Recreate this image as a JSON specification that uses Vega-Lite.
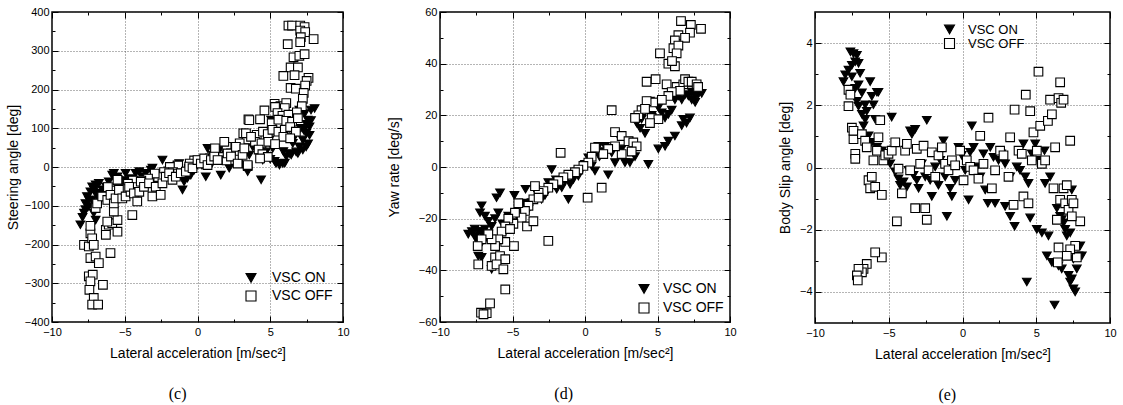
{
"$schema":"https://vega.github.io/schema/vega-lite/v6.json",
"padding":{"left":5,"top":5,"right":5,"bottom":0},
"spacing":36,
"config":{
 "view":{"stroke":"black","strokeWidth":1.5},
 "axis":{"domain":false,"grid":true,"gridDash":[1,2],"gridColor":"#444","gridWidth":0.8,"tickColor":"black","tickWidth":1,"labelFont":"Liberation Sans","labelFontSize":11,"labelColor":"black","labelPadding":9,"labelFlush":false,"labelOverlap":false,"titleFont":"Liberation Sans","titleFontSize":14,"titleFontWeight":"normal","titleColor":"black"},
 "axisBottom":{"labelPadding":10,"titlePadding":6},
 "title":{"font":"Liberation Serif","fontSize":16,"fontWeight":"normal","color":"black","orient":"bottom","anchor":"middle","frame":"bounds","offset":26},
 "legend":{"labelFont":"Liberation Sans","labelFontSize":14,"labelColor":"black","symbolSize":100,"symbolStrokeColor":"black","symbolStrokeWidth":1.1,"labelOffset":12}
},
"resolve":{"scale":{"x":"independent","y":"independent","shape":"independent","fill":"independent","stroke":"independent"},"legend":{"shape":"independent","fill":"independent","stroke":"independent"}},
"datasets":{
"c":[
{"a":-8.05,"v":-149,"s":"VSC ON"},{"a":-7.8,"v":-119,"s":"VSC ON"},{"a":-7.7,"v":-94,"s":"VSC ON"},{"a":-7.6,"v":-76,"s":"VSC ON"},{"a":-7.47,"v":-85,"s":"VSC ON"},{"a":-7.36,"v":-64,"s":"VSC ON"},{"a":-7.24,"v":-51,"s":"VSC ON"},{"a":-7.0,"v":-46,"s":"VSC ON"},{"a":-6.78,"v":-42,"s":"VSC ON"},{"a":-7.13,"v":-119,"s":"VSC ON"},{"a":-7.0,"v":-137,"s":"VSC ON"},{"a":-7.47,"v":-102,"s":"VSC ON"},{"a":-7.24,"v":-85,"s":"VSC ON"},{"a":-6.78,"v":-68,"s":"VSC ON"},{"a":-6.55,"v":-59,"s":"VSC ON"},{"a":-6.3,"v":-51,"s":"VSC ON"},{"a":-5.86,"v":-21,"s":"VSC ON"},{"a":-5.75,"v":-16,"s":"VSC ON"},{"a":-5.5,"v":-25,"s":"VSC ON"},{"a":-6.1,"v":-38,"s":"VSC ON"},{"a":-4.94,"v":-16,"s":"VSC ON"},{"a":-4.25,"v":-16,"s":"VSC ON"},{"a":-4.0,"v":-12,"s":"VSC ON"},{"a":-3.56,"v":-16,"s":"VSC ON"},{"a":-3.2,"v":-8,"s":"VSC ON"},{"a":-3.1,"v":-3,"s":"VSC ON"},{"a":-3.8,"v":-25,"s":"VSC ON"},{"a":-4.14,"v":-38,"s":"VSC ON"},{"a":-2.41,"v":18,"s":"VSC ON"},{"a":-2.18,"v":-16,"s":"VSC ON"},{"a":-1.72,"v":-3,"s":"VSC ON"},{"a":-1.38,"v":5,"s":"VSC ON"},{"a":-1.26,"v":9,"s":"VSC ON"},{"a":-1.15,"v":-21,"s":"VSC ON"},{"a":-1.03,"v":-59,"s":"VSC ON"},{"a":-0.92,"v":-38,"s":"VSC ON"},{"a":-0.69,"v":-29,"s":"VSC ON"},{"a":-0.46,"v":-21,"s":"VSC ON"},{"a":-0.23,"v":-8,"s":"VSC ON"},{"a":-0.11,"v":1,"s":"VSC ON"},{"a":0.11,"v":14,"s":"VSC ON"},{"a":0.57,"v":-25,"s":"VSC ON"},{"a":0.69,"v":48,"s":"VSC ON"},{"a":0.8,"v":22,"s":"VSC ON"},{"a":1.03,"v":31,"s":"VSC ON"},{"a":1.26,"v":39,"s":"VSC ON"},{"a":1.5,"v":44,"s":"VSC ON"},{"a":1.6,"v":-21,"s":"VSC ON"},{"a":1.72,"v":27,"s":"VSC ON"},{"a":1.95,"v":18,"s":"VSC ON"},{"a":2.18,"v":-3,"s":"VSC ON"},{"a":2.41,"v":27,"s":"VSC ON"},{"a":2.64,"v":35,"s":"VSC ON"},{"a":2.87,"v":27,"s":"VSC ON"},{"a":3.22,"v":1,"s":"VSC ON"},{"a":3.45,"v":-12,"s":"VSC ON"},{"a":3.56,"v":31,"s":"VSC ON"},{"a":3.8,"v":52,"s":"VSC ON"},{"a":4.0,"v":65,"s":"VSC ON"},{"a":4.37,"v":-33,"s":"VSC ON"},{"a":4.48,"v":18,"s":"VSC ON"},{"a":4.71,"v":39,"s":"VSC ON"},{"a":4.94,"v":70,"s":"VSC ON"},{"a":5.06,"v":121,"s":"VSC ON"},{"a":5.17,"v":48,"s":"VSC ON"},{"a":5.4,"v":9,"s":"VSC ON"},{"a":5.63,"v":5,"s":"VSC ON"},{"a":5.86,"v":9,"s":"VSC ON"},{"a":6.1,"v":27,"s":"VSC ON"},{"a":6.32,"v":35,"s":"VSC ON"},{"a":6.55,"v":61,"s":"VSC ON"},{"a":6.67,"v":78,"s":"VSC ON"},{"a":6.78,"v":39,"s":"VSC ON"},{"a":7.0,"v":52,"s":"VSC ON"},{"a":7.24,"v":70,"s":"VSC ON"},{"a":7.47,"v":87,"s":"VSC ON"},{"a":7.7,"v":104,"s":"VSC ON"},{"a":7.58,"v":121,"s":"VSC ON"},{"a":7.8,"v":147,"s":"VSC ON"},{"a":8.05,"v":151,"s":"VSC ON"},{"a":7.0,"v":147,"s":"VSC ON"},{"a":7.36,"v":138,"s":"VSC ON"},{"a":7.7,"v":82,"s":"VSC ON"},{"a":7.47,"v":52,"s":"VSC ON"},{"a":7.24,"v":44,"s":"VSC ON"},{"a":6.9,"v":35,"s":"VSC ON"},{"a":6.44,"v":31,"s":"VSC ON"},{"a":-5.2,"v":-40,"s":"VSC ON"},{"a":-4.6,"v":-30,"s":"VSC ON"},{"a":-3.4,"v":-30,"s":"VSC ON"},{"a":-2.8,"v":-20,"s":"VSC ON"},{"a":-2.0,"v":-10,"s":"VSC ON"},{"a":-1.6,"v":-15,"s":"VSC ON"},{"a":-0.6,"v":-10,"s":"VSC ON"},{"a":0.3,"v":5,"s":"VSC ON"},{"a":1.0,"v":10,"s":"VSC ON"},{"a":2.0,"v":30,"s":"VSC ON"},{"a":2.9,"v":40,"s":"VSC ON"},{"a":3.3,"v":60,"s":"VSC ON"},{"a":4.2,"v":40,"s":"VSC ON"},{"a":5.0,"v":20,"s":"VSC ON"},{"a":5.3,"v":15,"s":"VSC ON"},{"a":6.0,"v":10,"s":"VSC ON"},{"a":5.9,"v":40,"s":"VSC ON"},{"a":7.1,"v":100,"s":"VSC ON"},{"a":7.5,"v":110,"s":"VSC ON"},{"a":7.8,"v":120,"s":"VSC ON"},{"a":7.6,"v":60,"s":"VSC ON"},{"a":7.3,"v":95,"s":"VSC ON"},{"a":-7.9,"v":-130,"s":"VSC ON"},{"a":-7.7,"v":-110,"s":"VSC ON"},{"a":-6.9,"v":-100,"s":"VSC ON"},{"a":-6.6,"v":-80,"s":"VSC ON"},{"a":-7.1,"v":-60,"s":"VSC ON"},{"a":-6.9,"v":-75,"s":"VSC ON"},{"a":-5.4,"v":-55,"s":"VSC ON"},{"a":-5.0,"v":-35,"s":"VSC ON"},
{"a":6.25,"v":365,"s":"VSC OFF"},{"a":6.5,"v":365,"s":"VSC OFF"},{"a":7.06,"v":365,"s":"VSC OFF"},{"a":7.36,"v":361,"s":"VSC OFF"},{"a":7.06,"v":352,"s":"VSC OFF"},{"a":7.4,"v":348,"s":"VSC OFF"},{"a":7.98,"v":330,"s":"VSC OFF"},{"a":7.1,"v":335,"s":"VSC OFF"},{"a":7.06,"v":322,"s":"VSC OFF"},{"a":6.2,"v":317,"s":"VSC OFF"},{"a":6.6,"v":283,"s":"VSC OFF"},{"a":7.0,"v":287,"s":"VSC OFF"},{"a":7.36,"v":291,"s":"VSC OFF"},{"a":6.4,"v":257,"s":"VSC OFF"},{"a":6.9,"v":257,"s":"VSC OFF"},{"a":5.9,"v":235,"s":"VSC OFF"},{"a":6.67,"v":237,"s":"VSC OFF"},{"a":7.63,"v":230,"s":"VSC OFF"},{"a":7.5,"v":222,"s":"VSC OFF"},{"a":7.4,"v":210,"s":"VSC OFF"},{"a":6.4,"v":204,"s":"VSC OFF"},{"a":6.76,"v":202,"s":"VSC OFF"},{"a":7.3,"v":191,"s":"VSC OFF"},{"a":7.24,"v":176,"s":"VSC OFF"},{"a":4.6,"v":146,"s":"VSC OFF"},{"a":5.3,"v":163,"s":"VSC OFF"},{"a":5.7,"v":157,"s":"VSC OFF"},{"a":6.1,"v":165,"s":"VSC OFF"},{"a":5.33,"v":155,"s":"VSC OFF"},{"a":6.0,"v":152,"s":"VSC OFF"},{"a":7.17,"v":157,"s":"VSC OFF"},{"a":3.5,"v":123,"s":"VSC OFF"},{"a":4.3,"v":123,"s":"VSC OFF"},{"a":5.5,"v":139,"s":"VSC OFF"},{"a":5.84,"v":132,"s":"VSC OFF"},{"a":6.25,"v":135,"s":"VSC OFF"},{"a":6.83,"v":141,"s":"VSC OFF"},{"a":5.1,"v":113,"s":"VSC OFF"},{"a":5.56,"v":122,"s":"VSC OFF"},{"a":6.1,"v":119,"s":"VSC OFF"},{"a":6.5,"v":117,"s":"VSC OFF"},{"a":6.9,"v":126,"s":"VSC OFF"},{"a":3.15,"v":87,"s":"VSC OFF"},{"a":3.68,"v":78,"s":"VSC OFF"},{"a":4.07,"v":83,"s":"VSC OFF"},{"a":4.5,"v":91,"s":"VSC OFF"},{"a":4.83,"v":85,"s":"VSC OFF"},{"a":5.15,"v":96,"s":"VSC OFF"},{"a":5.56,"v":91,"s":"VSC OFF"},{"a":6.0,"v":96,"s":"VSC OFF"},{"a":6.37,"v":103,"s":"VSC OFF"},{"a":6.76,"v":91,"s":"VSC OFF"},{"a":5.9,"v":78,"s":"VSC OFF"},{"a":6.37,"v":74,"s":"VSC OFF"},{"a":3.38,"v":71,"s":"VSC OFF"},{"a":3.95,"v":65,"s":"VSC OFF"},{"a":4.4,"v":61,"s":"VSC OFF"},{"a":4.87,"v":65,"s":"VSC OFF"},{"a":5.33,"v":59,"s":"VSC OFF"},{"a":4.2,"v":45,"s":"VSC OFF"},{"a":4.46,"v":33,"s":"VSC OFF"},{"a":4.83,"v":26,"s":"VSC OFF"},{"a":4.3,"v":22,"s":"VSC OFF"},{"a":3.45,"v":2,"s":"VSC OFF"},{"a":2.9,"v":61,"s":"VSC OFF"},{"a":2.5,"v":52,"s":"VSC OFF"},{"a":2.0,"v":52,"s":"VSC OFF"},{"a":1.84,"v":65,"s":"VSC OFF"},{"a":2.8,"v":35,"s":"VSC OFF"},{"a":2.3,"v":35,"s":"VSC OFF"},{"a":1.66,"v":26,"s":"VSC OFF"},{"a":1.2,"v":48,"s":"VSC OFF"},{"a":0.85,"v":22,"s":"VSC OFF"},{"a":0.4,"v":17,"s":"VSC OFF"},{"a":0.05,"v":13,"s":"VSC OFF"},{"a":-0.23,"v":17,"s":"VSC OFF"},{"a":-0.53,"v":9,"s":"VSC OFF"},{"a":-0.6,"v":-4,"s":"VSC OFF"},{"a":1.2,"v":19,"s":"VSC OFF"},{"a":2.0,"v":17,"s":"VSC OFF"},{"a":2.8,"v":19,"s":"VSC OFF"},{"a":-1.33,"v":4,"s":"VSC OFF"},{"a":-1.9,"v":0,"s":"VSC OFF"},{"a":-1.68,"v":-13,"s":"VSC OFF"},{"a":-1.33,"v":-17,"s":"VSC OFF"},{"a":-2.3,"v":-13,"s":"VSC OFF"},{"a":-2.7,"v":-26,"s":"VSC OFF"},{"a":-2.94,"v":-17,"s":"VSC OFF"},{"a":-3.4,"v":-30,"s":"VSC OFF"},{"a":-3.86,"v":-35,"s":"VSC OFF"},{"a":-4.2,"v":-39,"s":"VSC OFF"},{"a":-4.44,"v":-35,"s":"VSC OFF"},{"a":-4.78,"v":-43,"s":"VSC OFF"},{"a":-5.47,"v":-35,"s":"VSC OFF"},{"a":-5.0,"v":-57,"s":"VSC OFF"},{"a":-4.3,"v":-52,"s":"VSC OFF"},{"a":-5.7,"v":-61,"s":"VSC OFF"},{"a":-6.16,"v":-52,"s":"VSC OFF"},
{"a":-7.8,"v":-201,"s":"VSC OFF"},{"a":-7.47,"v":-205,"s":"VSC OFF"},{"a":-7.36,"v":-171,"s":"VSC OFF"},{"a":-7.24,"v":-184,"s":"VSC OFF"},{"a":-7.13,"v":-201,"s":"VSC OFF"},{"a":-7.36,"v":-235,"s":"VSC OFF"},{"a":-7.0,"v":-231,"s":"VSC OFF"},{"a":-6.78,"v":-248,"s":"VSC OFF"},{"a":-7.47,"v":-282,"s":"VSC OFF"},{"a":-7.2,"v":-278,"s":"VSC OFF"},{"a":-7.36,"v":-295,"s":"VSC OFF"},{"a":-7.43,"v":-317,"s":"VSC OFF"},{"a":-7.13,"v":-338,"s":"VSC OFF"},{"a":-7.24,"v":-355,"s":"VSC OFF"},{"a":-6.83,"v":-355,"s":"VSC OFF"},{"a":-6.5,"v":-304,"s":"VSC OFF"},{"a":-5.98,"v":-222,"s":"VSC OFF"},{"a":-6.3,"v":-162,"s":"VSC OFF"},{"a":-6.1,"v":-149,"s":"VSC OFF"},{"a":-5.86,"v":-145,"s":"VSC OFF"},{"a":-6.3,"v":-175,"s":"VSC OFF"},{"a":-5.5,"v":-167,"s":"VSC OFF"},{"a":-5.5,"v":-137,"s":"VSC OFF"},{"a":-5.75,"v":-115,"s":"VSC OFF"},{"a":-6.2,"v":-141,"s":"VSC OFF"},{"a":-7.36,"v":-152,"s":"VSC OFF"},{"a":-7.0,"v":-106,"s":"VSC OFF"},{"a":-6.9,"v":-94,"s":"VSC OFF"},{"a":-6.55,"v":-76,"s":"VSC OFF"},{"a":-6.2,"v":-85,"s":"VSC OFF"},{"a":-5.98,"v":-72,"s":"VSC OFF"},{"a":-5.75,"v":-94,"s":"VSC OFF"},{"a":-5.63,"v":-81,"s":"VSC OFF"},{"a":-5.4,"v":-59,"s":"VSC OFF"},{"a":-5.5,"v":-33,"s":"VSC OFF"},{"a":-5.17,"v":-81,"s":"VSC OFF"},{"a":-4.94,"v":-76,"s":"VSC OFF"},{"a":-4.6,"v":-64,"s":"VSC OFF"},{"a":-4.48,"v":-124,"s":"VSC OFF"},{"a":-4.7,"v":-51,"s":"VSC OFF"},{"a":-4.37,"v":-68,"s":"VSC OFF"},{"a":-4.0,"v":-64,"s":"VSC OFF"},{"a":-4.14,"v":-89,"s":"VSC OFF"},{"a":-3.9,"v":-38,"s":"VSC OFF"},{"a":-3.68,"v":-51,"s":"VSC OFF"},{"a":-3.33,"v":-42,"s":"VSC OFF"},{"a":-3.1,"v":-76,"s":"VSC OFF"},{"a":-2.87,"v":-51,"s":"VSC OFF"},{"a":-2.53,"v":-72,"s":"VSC OFF"},{"a":-2.41,"v":-42,"s":"VSC OFF"},{"a":-2.18,"v":-25,"s":"VSC OFF"},{"a":-1.95,"v":-16,"s":"VSC OFF"},{"a":-1.72,"v":-33,"s":"VSC OFF"},{"a":-1.49,"v":-25,"s":"VSC OFF"},{"a":-1.15,"v":-16,"s":"VSC OFF"},{"a":-0.8,"v":-12,"s":"VSC OFF"},{"a":-0.57,"v":1,"s":"VSC OFF"},{"a":-0.34,"v":-3,"s":"VSC OFF"},{"a":0,"v":18,"s":"VSC OFF"},{"a":0.23,"v":9,"s":"VSC OFF"},{"a":0.46,"v":22,"s":"VSC OFF"},{"a":0.69,"v":5,"s":"VSC OFF"},{"a":0.92,"v":18,"s":"VSC OFF"},{"a":1.15,"v":27,"s":"VSC OFF"},{"a":1.38,"v":18,"s":"VSC OFF"},{"a":2.07,"v":35,"s":"VSC OFF"},{"a":2.3,"v":27,"s":"VSC OFF"},{"a":2.64,"v":52,"s":"VSC OFF"},{"a":2.76,"v":9,"s":"VSC OFF"},{"a":3.1,"v":31,"s":"VSC OFF"},{"a":3.22,"v":48,"s":"VSC OFF"},{"a":3.45,"v":5,"s":"VSC OFF"},{"a":3.33,"v":87,"s":"VSC OFF"},{"a":3.56,"v":121,"s":"VSC OFF"},{"a":3.68,"v":78,"s":"VSC OFF"}
],
"d":[
{"a":4.48,"v":25.5,"s":"VSC ON"},{"a":4.83,"v":25,"s":"VSC ON"},{"a":5.06,"v":23,"s":"VSC ON"},{"a":5.29,"v":21,"s":"VSC ON"},{"a":5.52,"v":19,"s":"VSC ON"},{"a":5.75,"v":20.4,"s":"VSC ON"},{"a":5.98,"v":22,"s":"VSC ON"},{"a":6.2,"v":26,"s":"VSC ON"},{"a":6.44,"v":27.5,"s":"VSC ON"},{"a":6.67,"v":26,"s":"VSC ON"},{"a":6.9,"v":28,"s":"VSC ON"},{"a":7.13,"v":27.5,"s":"VSC ON"},{"a":7.36,"v":29,"s":"VSC ON"},{"a":7.6,"v":27.5,"s":"VSC ON"},{"a":7.8,"v":28,"s":"VSC ON"},{"a":8.05,"v":28.5,"s":"VSC ON"},{"a":7.36,"v":26,"s":"VSC ON"},{"a":7.6,"v":25,"s":"VSC ON"},{"a":6.78,"v":18.5,"s":"VSC ON"},{"a":7.0,"v":17,"s":"VSC ON"},{"a":7.24,"v":19,"s":"VSC ON"},{"a":6.67,"v":16,"s":"VSC ON"},{"a":6.2,"v":12,"s":"VSC ON"},{"a":5.75,"v":10,"s":"VSC ON"},{"a":5.52,"v":8,"s":"VSC ON"},{"a":5.06,"v":7,"s":"VSC ON"},{"a":4.37,"v":1,"s":"VSC ON"},{"a":4.14,"v":13,"s":"VSC ON"},{"a":3.8,"v":15,"s":"VSC ON"},{"a":3.56,"v":17,"s":"VSC ON"},{"a":3.9,"v":18.5,"s":"VSC ON"},{"a":3.45,"v":4,"s":"VSC ON"},{"a":3.1,"v":1.7,"s":"VSC ON"},{"a":2.76,"v":1.7,"s":"VSC ON"},{"a":2.53,"v":7,"s":"VSC ON"},{"a":2.3,"v":12,"s":"VSC ON"},{"a":2.07,"v":1.7,"s":"VSC ON"},{"a":1.84,"v":5.5,"s":"VSC ON"},{"a":1.6,"v":-3,"s":"VSC ON"},{"a":1.38,"v":8,"s":"VSC ON"},{"a":1.15,"v":6,"s":"VSC ON"},{"a":0.92,"v":8,"s":"VSC ON"},{"a":0.69,"v":-1.5,"s":"VSC ON"},{"a":0.46,"v":0.4,"s":"VSC ON"},{"a":0.23,"v":3.6,"s":"VSC ON"},{"a":0,"v":1,"s":"VSC ON"},{"a":-0.23,"v":-1,"s":"VSC ON"},{"a":-0.46,"v":-3.5,"s":"VSC ON"},{"a":-0.8,"v":-4.8,"s":"VSC ON"},{"a":-1.03,"v":-6.7,"s":"VSC ON"},{"a":-1.15,"v":-12.5,"s":"VSC ON"},{"a":-1.38,"v":-5.4,"s":"VSC ON"},{"a":-1.6,"v":-8,"s":"VSC ON"},{"a":-1.95,"v":-8.6,"s":"VSC ON"},{"a":-2.3,"v":-1,"s":"VSC ON"},{"a":-2.53,"v":-6,"s":"VSC ON"},{"a":-2.76,"v":-11,"s":"VSC ON"},{"a":-3.0,"v":-12.5,"s":"VSC ON"},{"a":-3.33,"v":-10,"s":"VSC ON"},{"a":-3.45,"v":-8.6,"s":"VSC ON"},{"a":-3.68,"v":-13.8,"s":"VSC ON"},{"a":-3.9,"v":-16.4,"s":"VSC ON"},{"a":-4.1,"v":-8.6,"s":"VSC ON"},{"a":-4.37,"v":-17.7,"s":"VSC ON"},{"a":-4.6,"v":-19.6,"s":"VSC ON"},{"a":-4.87,"v":-11,"s":"VSC ON"},{"a":-5.06,"v":-21.5,"s":"VSC ON"},{"a":-5.29,"v":-19,"s":"VSC ON"},{"a":-5.5,"v":-25,"s":"VSC ON"},{"a":-5.86,"v":-10,"s":"VSC ON"},{"a":-6.1,"v":-11.9,"s":"VSC ON"},{"a":-5.98,"v":-17.7,"s":"VSC ON"},{"a":-6.2,"v":-20,"s":"VSC ON"},{"a":-6.44,"v":-23,"s":"VSC ON"},{"a":-6.67,"v":-21,"s":"VSC ON"},{"a":-6.9,"v":-19,"s":"VSC ON"},{"a":-7.13,"v":-15,"s":"VSC ON"},{"a":-7.24,"v":-17.7,"s":"VSC ON"},{"a":-7.36,"v":-25,"s":"VSC ON"},{"a":-7.6,"v":-26.7,"s":"VSC ON"},{"a":-7.8,"v":-25,"s":"VSC ON"},{"a":-8.05,"v":-26,"s":"VSC ON"},{"a":-7.6,"v":-24,"s":"VSC ON"},{"a":-7.13,"v":-25,"s":"VSC ON"},{"a":-6.9,"v":-24,"s":"VSC ON"},{"a":-6.67,"v":-26,"s":"VSC ON"},{"a":-7.36,"v":-34.5,"s":"VSC ON"},{"a":-7.13,"v":-35,"s":"VSC ON"},{"a":-6.44,"v":-39.6,"s":"VSC ON"},{"a":-6.2,"v":-38.3,"s":"VSC ON"},{"a":-6.9,"v":-28,"s":"VSC ON"},{"a":-7.13,"v":-29.3,"s":"VSC ON"},{"a":-7.5,"v":-28,"s":"VSC ON"},{"a":-7.0,"v":-27,"s":"VSC ON"},{"a":-5.7,"v":-22,"s":"VSC ON"},{"a":-4.2,"v":-14,"s":"VSC ON"},{"a":-2.0,"v":-5,"s":"VSC ON"},{"a":1.0,"v":4,"s":"VSC ON"},{"a":3.0,"v":10,"s":"VSC ON"},{"a":4.6,"v":20,"s":"VSC ON"},
{"a":6.62,"v":56.5,"s":"VSC OFF"},{"a":7.3,"v":55,"s":"VSC OFF"},{"a":8.0,"v":53.5,"s":"VSC OFF"},{"a":7.24,"v":52,"s":"VSC OFF"},{"a":6.44,"v":51,"s":"VSC OFF"},{"a":6.9,"v":50,"s":"VSC OFF"},{"a":6.2,"v":49,"s":"VSC OFF"},{"a":6.1,"v":46,"s":"VSC OFF"},{"a":6.44,"v":47,"s":"VSC OFF"},{"a":6.32,"v":44,"s":"VSC OFF"},{"a":5.17,"v":44,"s":"VSC OFF"},{"a":5.75,"v":40,"s":"VSC OFF"},{"a":6.2,"v":39,"s":"VSC OFF"},{"a":6.0,"v":41,"s":"VSC OFF"},{"a":4.25,"v":33,"s":"VSC OFF"},{"a":4.87,"v":34,"s":"VSC OFF"},{"a":5.63,"v":32,"s":"VSC OFF"},{"a":6.32,"v":31,"s":"VSC OFF"},{"a":6.78,"v":32,"s":"VSC OFF"},{"a":6.9,"v":34,"s":"VSC OFF"},{"a":7.13,"v":33,"s":"VSC OFF"},{"a":7.36,"v":33,"s":"VSC OFF"},{"a":7.7,"v":32,"s":"VSC OFF"},{"a":7.8,"v":31,"s":"VSC OFF"},{"a":6.55,"v":29.5,"s":"VSC OFF"},{"a":5.98,"v":29,"s":"VSC OFF"},{"a":5.75,"v":27.5,"s":"VSC OFF"},{"a":5.3,"v":26,"s":"VSC OFF"},{"a":4.7,"v":25,"s":"VSC OFF"},{"a":4.25,"v":25.5,"s":"VSC OFF"},{"a":3.9,"v":22,"s":"VSC OFF"},{"a":3.68,"v":20,"s":"VSC OFF"},{"a":3.45,"v":19,"s":"VSC OFF"},{"a":4.14,"v":22.5,"s":"VSC OFF"},{"a":4.6,"v":19,"s":"VSC OFF"},{"a":5.06,"v":18.5,"s":"VSC OFF"},{"a":4.48,"v":17,"s":"VSC OFF"},{"a":1.84,"v":22,"s":"VSC OFF"},{"a":2.07,"v":13.5,"s":"VSC OFF"},{"a":2.53,"v":12,"s":"VSC OFF"},{"a":3.0,"v":10,"s":"VSC OFF"},{"a":3.33,"v":9.5,"s":"VSC OFF"},{"a":3.56,"v":8,"s":"VSC OFF"},{"a":3.22,"v":6,"s":"VSC OFF"},{"a":2.53,"v":5,"s":"VSC OFF"},{"a":2.07,"v":8,"s":"VSC OFF"},{"a":1.6,"v":7,"s":"VSC OFF"},{"a":1.26,"v":5,"s":"VSC OFF"},{"a":0.69,"v":7.5,"s":"VSC OFF"},{"a":0.46,"v":4,"s":"VSC OFF"},{"a":0.23,"v":1.7,"s":"VSC OFF"},{"a":-0.11,"v":0.4,"s":"VSC OFF"},{"a":-0.46,"v":-1,"s":"VSC OFF"},{"a":-0.69,"v":-2,"s":"VSC OFF"},{"a":-1.15,"v":-3,"s":"VSC OFF"},{"a":-1.49,"v":-4,"s":"VSC OFF"},{"a":-1.84,"v":-5.4,"s":"VSC OFF"},{"a":-1.68,"v":5.5,"s":"VSC OFF"},{"a":-2.18,"v":-6.7,"s":"VSC OFF"},{"a":-2.53,"v":-8,"s":"VSC OFF"},{"a":-2.87,"v":-9.3,"s":"VSC OFF"},{"a":-3.2,"v":-10,"s":"VSC OFF"},{"a":-3.56,"v":-12.5,"s":"VSC OFF"},{"a":-3.9,"v":-15,"s":"VSC OFF"},{"a":-4.14,"v":-17,"s":"VSC OFF"},{"a":-4.37,"v":-19.6,"s":"VSC OFF"},{"a":-4.0,"v":-23,"s":"VSC OFF"},{"a":-3.56,"v":-21,"s":"VSC OFF"},{"a":-4.6,"v":-14,"s":"VSC OFF"},{"a":-4.83,"v":-17.7,"s":"VSC OFF"},{"a":-4.94,"v":-22,"s":"VSC OFF"},{"a":-5.29,"v":-20,"s":"VSC OFF"},{"a":-5.5,"v":-23,"s":"VSC OFF"},{"a":-5.75,"v":-25,"s":"VSC OFF"},{"a":-5.17,"v":-24,"s":"VSC OFF"},{"a":-4.9,"v":-30.6,"s":"VSC OFF"},{"a":-5.5,"v":-29,"s":"VSC OFF"},{"a":-5.98,"v":-28,"s":"VSC OFF"},{"a":-6.2,"v":-30.6,"s":"VSC OFF"},{"a":-6.44,"v":-28,"s":"VSC OFF"},{"a":-6.67,"v":-26,"s":"VSC OFF"},{"a":-7.13,"v":-28,"s":"VSC OFF"},{"a":-7.4,"v":-30.6,"s":"VSC OFF"},{"a":-7.36,"v":-37.7,"s":"VSC OFF"},{"a":-6.2,"v":-35,"s":"VSC OFF"},{"a":-5.86,"v":-34.5,"s":"VSC OFF"},{"a":-5.5,"v":-35.7,"s":"VSC OFF"},{"a":-6.44,"v":-38.3,"s":"VSC OFF"},{"a":-6.1,"v":-37.7,"s":"VSC OFF"},{"a":-5.63,"v":-39.6,"s":"VSC OFF"},{"a":-5.5,"v":-47.4,"s":"VSC OFF"},{"a":-6.55,"v":-52.8,"s":"VSC OFF"},{"a":-7.17,"v":-56.4,"s":"VSC OFF"},{"a":-6.78,"v":-56.6,"s":"VSC OFF"},{"a":-7.0,"v":-57,"s":"VSC OFF"},{"a":-2.53,"v":-28.6,"s":"VSC OFF"},{"a":1.15,"v":-8,"s":"VSC OFF"},{"a":0.18,"v":-11.9,"s":"VSC OFF"},{"a":-3.2,"v":-11.9,"s":"VSC OFF"},{"a":-3.45,"v":-7.4,"s":"VSC OFF"}
],
"e":[
{"a":-8.07,"v":2.76,"s":"VSC ON"},{"a":-7.95,"v":2.98,"s":"VSC ON"},{"a":-7.73,"v":3.13,"s":"VSC ON"},{"a":-7.5,"v":3.29,"s":"VSC ON"},{"a":-7.6,"v":3.72,"s":"VSC ON"},{"a":-7.39,"v":3.66,"s":"VSC ON"},{"a":-7.16,"v":3.61,"s":"VSC ON"},{"a":-7.27,"v":3.4,"s":"VSC ON"},{"a":-7.05,"v":3.35,"s":"VSC ON"},{"a":-7.5,"v":2.92,"s":"VSC ON"},{"a":-7.27,"v":2.55,"s":"VSC ON"},{"a":-7.05,"v":2.66,"s":"VSC ON"},{"a":-6.82,"v":2.4,"s":"VSC ON"},{"a":-6.94,"v":3.03,"s":"VSC ON"},{"a":-7.16,"v":2.13,"s":"VSC ON"},{"a":-7.05,"v":1.97,"s":"VSC ON"},{"a":-6.82,"v":1.71,"s":"VSC ON"},{"a":-6.6,"v":1.55,"s":"VSC ON"},{"a":-6.49,"v":1.81,"s":"VSC ON"},{"a":-6.71,"v":1.34,"s":"VSC ON"},{"a":-6.6,"v":2.02,"s":"VSC ON"},{"a":-6.26,"v":2.76,"s":"VSC ON"},{"a":-6.15,"v":2.29,"s":"VSC ON"},{"a":-6.04,"v":2.02,"s":"VSC ON"},{"a":-5.8,"v":2.42,"s":"VSC ON"},{"a":-5.7,"v":2.42,"s":"VSC ON"},{"a":-5.92,"v":1.55,"s":"VSC ON"},{"a":-6.37,"v":1.02,"s":"VSC ON"},{"a":-6.15,"v":0.81,"s":"VSC ON"},{"a":-5.8,"v":0.65,"s":"VSC ON"},{"a":-5.47,"v":0.54,"s":"VSC ON"},{"a":-5.24,"v":0.33,"s":"VSC ON"},{"a":-4.9,"v":0.12,"s":"VSC ON"},{"a":-4.8,"v":1.62,"s":"VSC ON"},{"a":-4.56,"v":-0.14,"s":"VSC ON"},{"a":-4.34,"v":-0.36,"s":"VSC ON"},{"a":-4.23,"v":-0.57,"s":"VSC ON"},{"a":-4.0,"v":-0.46,"s":"VSC ON"},{"a":-3.77,"v":-0.62,"s":"VSC ON"},{"a":-3.66,"v":-0.09,"s":"VSC ON"},{"a":-3.43,"v":1.07,"s":"VSC ON"},{"a":-3.21,"v":1.23,"s":"VSC ON"},{"a":-3.55,"v":1.18,"s":"VSC ON"},{"a":-3.32,"v":-0.25,"s":"VSC ON"},{"a":-3.1,"v":-0.41,"s":"VSC ON"},{"a":-2.98,"v":-0.67,"s":"VSC ON"},{"a":-2.76,"v":0.12,"s":"VSC ON"},{"a":-2.53,"v":-0.3,"s":"VSC ON"},{"a":-2.42,"v":1.52,"s":"VSC ON"},{"a":-2.19,"v":-0.41,"s":"VSC ON"},{"a":-2.08,"v":-0.93,"s":"VSC ON"},{"a":-1.85,"v":0.02,"s":"VSC ON"},{"a":-1.63,"v":-0.57,"s":"VSC ON"},{"a":-1.51,"v":0.23,"s":"VSC ON"},{"a":-1.29,"v":0.86,"s":"VSC ON"},{"a":-1.18,"v":-0.3,"s":"VSC ON"},{"a":-1.06,"v":-1.57,"s":"VSC ON"},{"a":-0.84,"v":-0.67,"s":"VSC ON"},{"a":-0.72,"v":-0.93,"s":"VSC ON"},{"a":-0.5,"v":-0.41,"s":"VSC ON"},{"a":-0.27,"v":0.65,"s":"VSC ON"},{"a":-0.05,"v":0.39,"s":"VSC ON"},{"a":0.18,"v":-0.09,"s":"VSC ON"},{"a":0.41,"v":-1.04,"s":"VSC ON"},{"a":0.52,"v":0.49,"s":"VSC ON"},{"a":0.63,"v":1.34,"s":"VSC ON"},{"a":0.75,"v":0.65,"s":"VSC ON"},{"a":0.97,"v":0.02,"s":"VSC ON"},{"a":1.2,"v":-0.3,"s":"VSC ON"},{"a":1.42,"v":0.44,"s":"VSC ON"},{"a":1.54,"v":-0.72,"s":"VSC ON"},{"a":1.72,"v":-1.15,"s":"VSC ON"},{"a":1.88,"v":0.65,"s":"VSC ON"},{"a":2.1,"v":0.33,"s":"VSC ON"},{"a":2.21,"v":-1.15,"s":"VSC ON"},{"a":2.44,"v":0.23,"s":"VSC ON"},{"a":2.62,"v":0.44,"s":"VSC ON"},{"a":2.89,"v":0.12,"s":"VSC ON"},{"a":2.89,"v":-1.25,"s":"VSC ON"},{"a":3.23,"v":-0.3,"s":"VSC ON"},{"a":3.23,"v":-1.57,"s":"VSC ON"},{"a":3.53,"v":-1.89,"s":"VSC ON"},{"a":3.68,"v":0.02,"s":"VSC ON"},{"a":3.9,"v":-0.09,"s":"VSC ON"},{"a":4.13,"v":0.76,"s":"VSC ON"},{"a":4.25,"v":-0.3,"s":"VSC ON"},{"a":4.47,"v":-0.51,"s":"VSC ON"},{"a":4.36,"v":-3.68,"s":"VSC ON"},{"a":4.59,"v":-1.62,"s":"VSC ON"},{"a":4.7,"v":0.44,"s":"VSC ON"},{"a":4.93,"v":0.76,"s":"VSC ON"},{"a":5.04,"v":-1.99,"s":"VSC ON"},{"a":5.15,"v":0.23,"s":"VSC ON"},{"a":5.38,"v":-2.1,"s":"VSC ON"},{"a":5.56,"v":0.54,"s":"VSC ON"},{"a":5.6,"v":-0.51,"s":"VSC ON"},{"a":5.72,"v":-2.84,"s":"VSC ON"},{"a":5.83,"v":-2.2,"s":"VSC ON"},{"a":5.94,"v":-0.3,"s":"VSC ON"},{"a":6.06,"v":-3.05,"s":"VSC ON"},{"a":6.24,"v":-4.42,"s":"VSC ON"},{"a":6.4,"v":-1.31,"s":"VSC ON"},{"a":6.5,"v":-3.16,"s":"VSC ON"},{"a":6.62,"v":-1.57,"s":"VSC ON"},{"a":6.73,"v":-3.26,"s":"VSC ON"},{"a":6.85,"v":-1.78,"s":"VSC ON"},{"a":6.96,"v":-1.99,"s":"VSC ON"},{"a":7.07,"v":-2.2,"s":"VSC ON"},{"a":7.19,"v":-3.47,"s":"VSC ON"},{"a":7.3,"v":-2.1,"s":"VSC ON"},{"a":7.41,"v":-3.58,"s":"VSC ON"},{"a":7.52,"v":-3.9,"s":"VSC ON"},{"a":7.64,"v":-4.0,"s":"VSC ON"},{"a":7.75,"v":-3.26,"s":"VSC ON"},{"a":7.86,"v":-2.84,"s":"VSC ON"},{"a":8.09,"v":-2.84,"s":"VSC ON"},{"a":7.98,"v":-2.52,"s":"VSC ON"},{"a":7.41,"v":-0.72,"s":"VSC ON"},{"a":7.07,"v":-1.15,"s":"VSC ON"},{"a":7.3,"v":-3.68,"s":"VSC ON"},{"a":7.52,"v":-2.94,"s":"VSC ON"},{"a":6.73,"v":-1.67,"s":"VSC ON"},
{"a":-7.73,"v":2.5,"s":"VSC OFF"},{"a":-7.6,"v":2.34,"s":"VSC OFF"},{"a":-7.73,"v":1.97,"s":"VSC OFF"},{"a":-7.5,"v":1.28,"s":"VSC OFF"},{"a":-7.39,"v":0.91,"s":"VSC OFF"},{"a":-7.27,"v":0.44,"s":"VSC OFF"},{"a":-7.27,"v":0.28,"s":"VSC OFF"},{"a":-7.39,"v":1.18,"s":"VSC OFF"},{"a":-6.82,"v":1.07,"s":"VSC OFF"},{"a":-6.6,"v":0.86,"s":"VSC OFF"},{"a":-6.49,"v":0.65,"s":"VSC OFF"},{"a":-6.37,"v":-0.41,"s":"VSC OFF"},{"a":-6.26,"v":-0.67,"s":"VSC OFF"},{"a":-6.15,"v":-0.3,"s":"VSC OFF"},{"a":-5.92,"v":-0.62,"s":"VSC OFF"},{"a":-6.04,"v":0.23,"s":"VSC OFF"},{"a":-5.8,"v":0.54,"s":"VSC OFF"},{"a":-5.7,"v":0.97,"s":"VSC OFF"},{"a":-5.58,"v":1.52,"s":"VSC OFF"},{"a":-5.47,"v":-0.88,"s":"VSC OFF"},{"a":-5.36,"v":0.23,"s":"VSC OFF"},{"a":-5.24,"v":0.39,"s":"VSC OFF"},{"a":-5.02,"v":0.44,"s":"VSC OFF"},{"a":-4.8,"v":0.54,"s":"VSC OFF"},{"a":-4.56,"v":0.81,"s":"VSC OFF"},{"a":-4.45,"v":-1.73,"s":"VSC OFF"},{"a":-4.34,"v":-0.04,"s":"VSC OFF"},{"a":-4.11,"v":-0.83,"s":"VSC OFF"},{"a":-3.89,"v":0.54,"s":"VSC OFF"},{"a":-3.77,"v":0.76,"s":"VSC OFF"},{"a":-3.55,"v":-0.09,"s":"VSC OFF"},{"a":-3.21,"v":-1.31,"s":"VSC OFF"},{"a":-3.1,"v":0.6,"s":"VSC OFF"},{"a":-2.87,"v":0.12,"s":"VSC OFF"},{"a":-2.64,"v":0.7,"s":"VSC OFF"},{"a":-2.53,"v":-1.31,"s":"VSC OFF"},{"a":-2.42,"v":-1.68,"s":"VSC OFF"},{"a":-2.3,"v":-0.09,"s":"VSC OFF"},{"a":-2.08,"v":0.49,"s":"VSC OFF"},{"a":-1.85,"v":-0.3,"s":"VSC OFF"},{"a":-1.63,"v":0.39,"s":"VSC OFF"},{"a":-1.4,"v":0.65,"s":"VSC OFF"},{"a":-1.18,"v":0.12,"s":"VSC OFF"},{"a":-0.95,"v":-0.09,"s":"VSC OFF"},{"a":-0.72,"v":0.23,"s":"VSC OFF"},{"a":-0.5,"v":0.07,"s":"VSC OFF"},{"a":-0.16,"v":0.54,"s":"VSC OFF"},{"a":0.07,"v":-0.41,"s":"VSC OFF"},{"a":0.29,"v":0.23,"s":"VSC OFF"},{"a":0.52,"v":0.02,"s":"VSC OFF"},{"a":0.75,"v":-0.09,"s":"VSC OFF"},{"a":1.08,"v":-0.36,"s":"VSC OFF"},{"a":1.2,"v":1.02,"s":"VSC OFF"},{"a":1.42,"v":0.12,"s":"VSC OFF"},{"a":1.76,"v":1.6,"s":"VSC OFF"},{"a":1.99,"v":-0.67,"s":"VSC OFF"},{"a":2.21,"v":-0.09,"s":"VSC OFF"},{"a":2.55,"v":0.54,"s":"VSC OFF"},{"a":2.78,"v":0.39,"s":"VSC OFF"},{"a":3.12,"v":-0.3,"s":"VSC OFF"},{"a":3.23,"v":0.97,"s":"VSC OFF"},{"a":3.46,"v":-1.2,"s":"VSC OFF"},{"a":3.53,"v":1.86,"s":"VSC OFF"},{"a":3.8,"v":0.54,"s":"VSC OFF"},{"a":4.02,"v":0.44,"s":"VSC OFF"},{"a":4.13,"v":-0.93,"s":"VSC OFF"},{"a":4.29,"v":2.34,"s":"VSC OFF"},{"a":4.47,"v":-1.15,"s":"VSC OFF"},{"a":4.59,"v":1.81,"s":"VSC OFF"},{"a":4.7,"v":0.23,"s":"VSC OFF"},{"a":4.81,"v":1.13,"s":"VSC OFF"},{"a":5.04,"v":0.54,"s":"VSC OFF"},{"a":5.15,"v":3.08,"s":"VSC OFF"},{"a":5.27,"v":1.34,"s":"VSC OFF"},{"a":5.38,"v":0.12,"s":"VSC OFF"},{"a":5.6,"v":0.23,"s":"VSC OFF"},{"a":5.79,"v":1.5,"s":"VSC OFF"},{"a":5.94,"v":2.18,"s":"VSC OFF"},{"a":6.06,"v":1.71,"s":"VSC OFF"},{"a":6.17,"v":-0.67,"s":"VSC OFF"},{"a":6.28,"v":0.65,"s":"VSC OFF"},{"a":6.4,"v":-1.68,"s":"VSC OFF"},{"a":6.51,"v":2.23,"s":"VSC OFF"},{"a":6.62,"v":2.74,"s":"VSC OFF"},{"a":6.69,"v":2.08,"s":"VSC OFF"},{"a":6.85,"v":2.18,"s":"VSC OFF"},{"a":6.51,"v":-2.57,"s":"VSC OFF"},{"a":6.46,"v":-3.05,"s":"VSC OFF"},{"a":6.62,"v":-1.04,"s":"VSC OFF"},{"a":6.85,"v":-0.67,"s":"VSC OFF"},{"a":6.96,"v":-1.15,"s":"VSC OFF"},{"a":7.07,"v":-0.57,"s":"VSC OFF"},{"a":7.19,"v":-1.36,"s":"VSC OFF"},{"a":7.3,"v":0.86,"s":"VSC OFF"},{"a":7.41,"v":-1.04,"s":"VSC OFF"},{"a":7.52,"v":-1.15,"s":"VSC OFF"},{"a":7.64,"v":-2.52,"s":"VSC OFF"},{"a":7.75,"v":-2.89,"s":"VSC OFF"},{"a":7.98,"v":-1.73,"s":"VSC OFF"},{"a":7.3,"v":-2.63,"s":"VSC OFF"},{"a":7.07,"v":-2.84,"s":"VSC OFF"},{"a":7.41,"v":-1.57,"s":"VSC OFF"},{"a":-5.47,"v":-2.89,"s":"VSC OFF"},{"a":-5.92,"v":-2.73,"s":"VSC OFF"},{"a":-6.49,"v":-3.1,"s":"VSC OFF"},{"a":-6.71,"v":-3.26,"s":"VSC OFF"},{"a":-6.82,"v":-3.37,"s":"VSC OFF"},{"a":-7.05,"v":-3.26,"s":"VSC OFF"},{"a":-7.16,"v":-3.47,"s":"VSC OFF"},{"a":-7.1,"v":-3.63,"s":"VSC OFF"}
]
},
"hconcat":[
{
 "width":291,"height":310,
 "title":{"text":"(c)"},
 "data":{"name":"c"},
 "resolve":{"axis":{"x":"independent","y":"independent"}},
 "layer":[
  {"mark":{"type":"point","opacity":1,"size":75,"strokeWidth":1.1},
   "encoding":{
    "x":{"field":"a","type":"quantitative","scale":{"domain":[-10,10],"nice":false,"zero":false},
      "axis":{"orient":"bottom","title":"Lateral acceleration [m/sec²]","values":[-10,-7.5,-5,-2.5,0,2.5,5,7.5,10],"labelExpr":"datum.value % 5 === 0 ? datum.label : ''","tickSize":{"condition":{"test":"datum.value % 5 !== 0","value":-3},"value":-6},"gridOpacity":{"condition":{"test":"datum.value % 5 !== 0","value":0},"value":1}}},
    "y":{"field":"v","type":"quantitative","scale":{"domain":[-400,400],"nice":false,"zero":false},
      "axis":{"orient":"left","title":"Steering angle [deg]","titlePadding":4,"values":[-400,-350,-300,-250,-200,-150,-100,-50,0,50,100,150,200,250,300,350,400],"labelExpr":"datum.value % 100 === 0 ? datum.label : ''","tickSize":{"condition":{"test":"datum.value % 100 !== 0","value":-3},"value":-6},"gridOpacity":{"condition":{"test":"datum.value % 100 !== 0","value":0},"value":1}}},
    "shape":{"field":"s","type":"nominal","sort":["VSC ON","VSC OFF"],"scale":{"domain":["VSC ON","VSC OFF"],"range":["triangle-down","square"]},"legend":{"title":null,"orient":"none","legendX":192,"legendY":259,"rowPadding":3,"labelOffset":14}},
    "fill":{"field":"s","type":"nominal","sort":["VSC ON","VSC OFF"],"scale":{"domain":["VSC ON","VSC OFF"],"range":["black","white"]},"legend":{"title":null,"orient":"none","legendX":192,"legendY":259,"rowPadding":3,"labelOffset":14}},
    "stroke":{"field":"s","type":"nominal","sort":["VSC ON","VSC OFF"],"scale":{"domain":["VSC ON","VSC OFF"],"range":["black","black"]},"legend":{"title":null,"orient":"none","legendX":192,"legendY":259,"rowPadding":3,"labelOffset":14}}
   }},
  {"mark":{"type":"point","opacity":0},
   "encoding":{
    "x":{"field":"a","type":"quantitative","axis":{"orient":"top","title":null,"labels":false,"grid":false,"values":[-10,-7.5,-5,-2.5,0,2.5,5,7.5,10],"tickSize":{"condition":{"test":"datum.value % 5 !== 0","value":-3},"value":-6}}},
    "y":{"field":"v","type":"quantitative","axis":{"orient":"right","title":null,"labels":false,"grid":false,"values":[-400,-350,-300,-250,-200,-150,-100,-50,0,50,100,150,200,250,300,350,400],"tickSize":{"condition":{"test":"datum.value % 100 !== 0","value":-3},"value":-6}}}
   }}
 ]
},
{
 "width":290,"height":310,
 "title":{"text":"(d)"},
 "data":{"name":"d"},
 "resolve":{"axis":{"x":"independent","y":"independent"}},
 "layer":[
  {"mark":{"type":"point","opacity":1,"size":75,"strokeWidth":1.1},
   "encoding":{
    "x":{"field":"a","type":"quantitative","scale":{"domain":[-10,10],"nice":false,"zero":false},
      "axis":{"orient":"bottom","title":"Lateral acceleration [m/sec²]","values":[-10,-7.5,-5,-2.5,0,2.5,5,7.5,10],"labelExpr":"datum.value % 5 === 0 ? datum.label : ''","tickSize":{"condition":{"test":"datum.value % 5 !== 0","value":-3},"value":-6},"gridOpacity":{"condition":{"test":"datum.value % 5 !== 0","value":0},"value":1}}},
    "y":{"field":"v","type":"quantitative","scale":{"domain":[-60,60],"nice":false,"zero":false},
      "axis":{"orient":"left","title":"Yaw rate [deg/s]","titlePadding":17,"values":[-60,-50,-40,-30,-20,-10,0,10,20,30,40,50,60],"labelExpr":"datum.value % 20 === 0 ? datum.label : ''","tickSize":{"condition":{"test":"datum.value % 20 !== 0","value":-3},"value":-6},"gridOpacity":{"condition":{"test":"datum.value % 20 !== 0","value":0},"value":1}}},
    "shape":{"field":"s","type":"nominal","sort":["VSC ON","VSC OFF"],"scale":{"domain":["VSC ON","VSC OFF"],"range":["triangle-down","square"]},"legend":{"title":null,"orient":"none","legendX":197,"legendY":270,"rowPadding":4}},
    "fill":{"field":"s","type":"nominal","sort":["VSC ON","VSC OFF"],"scale":{"domain":["VSC ON","VSC OFF"],"range":["black","white"]},"legend":{"title":null,"orient":"none","legendX":197,"legendY":270,"rowPadding":4}},
    "stroke":{"field":"s","type":"nominal","sort":["VSC ON","VSC OFF"],"scale":{"domain":["VSC ON","VSC OFF"],"range":["black","black"]},"legend":{"title":null,"orient":"none","legendX":197,"legendY":270,"rowPadding":4}}
   }},
  {"mark":{"type":"point","opacity":0},
   "encoding":{
    "x":{"field":"a","type":"quantitative","axis":{"orient":"top","title":null,"labels":false,"grid":false,"values":[-10,-7.5,-5,-2.5,0,2.5,5,7.5,10],"tickSize":{"condition":{"test":"datum.value % 5 !== 0","value":-3},"value":-6}}},
    "y":{"field":"v","type":"quantitative","axis":{"orient":"right","title":null,"labels":false,"grid":false,"minExtent":10,"values":[-60,-50,-40,-30,-20,-10,0,10,20,30,40,50,60],"tickSize":{"condition":{"test":"datum.value % 20 !== 0","value":-3},"value":-6}}}
   }}
 ]
},
{
 "width":295,"height":311,
 "title":{"text":"(e)"},
 "data":{"name":"e"},
 "resolve":{"axis":{"x":"independent","y":"independent"}},
 "layer":[
  {"mark":{"type":"point","opacity":1,"size":75,"strokeWidth":1.1},
   "encoding":{
    "x":{"field":"a","type":"quantitative","scale":{"domain":[-10,10],"nice":false,"zero":false},
      "axis":{"orient":"bottom","title":"Lateral acceleration [m/sec²]","values":[-10,-7.5,-5,-2.5,0,2.5,5,7.5,10],"labelExpr":"datum.value % 5 === 0 ? datum.label : ''","tickSize":{"condition":{"test":"datum.value % 5 !== 0","value":-3},"value":-6},"gridOpacity":{"condition":{"test":"datum.value % 5 !== 0","value":0},"value":1}}},
    "y":{"field":"v","type":"quantitative","scale":{"domain":[-5,5],"nice":false,"zero":false},
      "axis":{"orient":"left","title":"Body Slip angle [deg]","titlePadding":7,"values":[-4,-3,-2,-1,0,1,2,3,4],"labelExpr":"(datum.value % 2 === 0) ? datum.label : ''","tickSize":{"condition":{"test":"datum.value % 2 !== 0","value":-3},"value":-6},"gridOpacity":{"condition":{"test":"datum.value % 2 !== 0","value":0},"value":1}}},
    "shape":{"field":"s","type":"nominal","sort":["VSC ON","VSC OFF"],"scale":{"domain":["VSC ON","VSC OFF"],"range":["triangle-down","square"]},"legend":{"title":null,"orient":"none","legendX":128,"legendY":11,"rowPadding":-6,"labelFontSize":13}},
    "fill":{"field":"s","type":"nominal","sort":["VSC ON","VSC OFF"],"scale":{"domain":["VSC ON","VSC OFF"],"range":["black","white"]},"legend":{"title":null,"orient":"none","legendX":128,"legendY":11,"rowPadding":-6,"labelFontSize":13}},
    "stroke":{"field":"s","type":"nominal","sort":["VSC ON","VSC OFF"],"scale":{"domain":["VSC ON","VSC OFF"],"range":["black","black"]},"legend":{"title":null,"orient":"none","legendX":128,"legendY":11,"rowPadding":-6,"labelFontSize":13}}
   }},
  {"mark":{"type":"point","opacity":0},
   "encoding":{
    "x":{"field":"a","type":"quantitative","axis":{"orient":"top","title":null,"labels":false,"grid":false,"values":[-10,-7.5,-5,-2.5,0,2.5,5,7.5,10],"tickSize":{"condition":{"test":"datum.value % 5 !== 0","value":-3},"value":-6}}},
    "y":{"field":"v","type":"quantitative","axis":{"orient":"right","title":null,"labels":false,"grid":false,"values":[-4,-3,-2,-1,0,1,2,3,4],"tickSize":{"condition":{"test":"datum.value % 2 !== 0","value":-3},"value":-6}}}
   }}
 ]
}
]
}
